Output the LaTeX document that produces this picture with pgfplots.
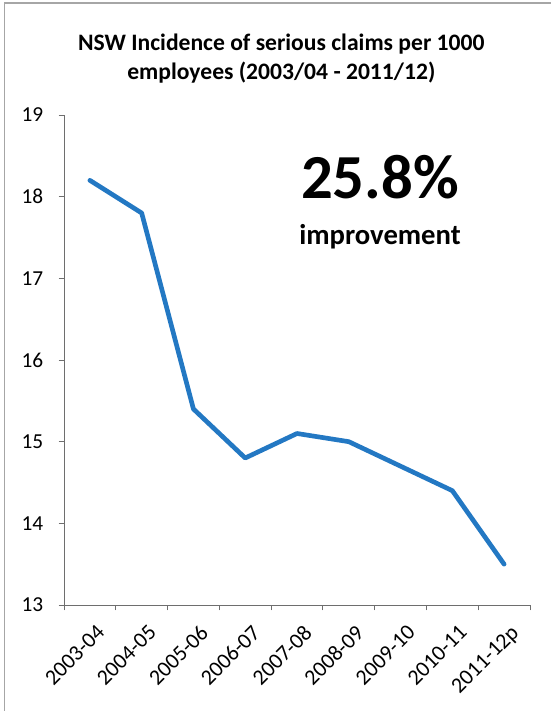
\documentclass[border=0pt]{standalone}
\usepackage{pgfplots}
\pgfplotsset{compat=1.18}
\usepackage{fontspec}
\setmainfont{Carlito}
\definecolor{lineblue}{RGB}{35,120,195}
\definecolor{axgray}{RGB}{110,110,110}
\begin{document}
\begin{tikzpicture}[x=1pt,y=1pt]
\path[use as bounding box] (-48,-79.5) rectangle (365.25,453.75);
\draw[gray!70, line width=0.8pt] (-44.5,-79.5) -- (-44.5,451.5) -- (365.25,451.5);
\begin{axis}[
  at={(0,0)}, anchor=south west,
  scale only axis, width=349.5pt, height=367.5pt,
  xmin=0, xmax=9, ymin=13, ymax=19,
  axis lines*=left,
  axis line style={axgray, line width=0.6pt},
  ytick={13,...,19},
  yticklabel style={font=\fontsize{16}{16}\selectfont, xshift=-8pt},
  xtick={0.5,1.5,...,8.5},
  xticklabels={2003-04,2004-05,2005-06,2006-07,2007-08,2008-09,2009-10,2010-11,2011-12p},
  xticklabel style={font=\fontsize{16.5}{16.5}\selectfont, rotate=45, anchor=north east, inner sep=1pt, yshift=-9pt, xshift=-3pt},
  minor xtick={0,...,9},
  tick align=outside,
  tick style={axgray, line width=0.6pt},
  major x tick style={draw=none},
  major tick length=4pt, minor tick length=4pt,
  /pgf/number format/assume math mode=true,
  clip=false,
]
\addplot[lineblue, line width=3.5pt, line join=round, line cap=round] coordinates {
(0.5,18.2) (1.5,17.8) (2.5,15.4) (3.5,14.8) (4.5,15.1) (5.5,15.0) (6.5,14.7) (7.5,14.4) (8.5,13.5)};
\end{axis}
\node[font=\fontsize{17.7}{21.5}\selectfont\bfseries, align=center] at (163,410) {NSW Incidence of serious claims per 1000\\employees (2003/04 - 2011/12)};
\node[font=\fontsize{47}{47}\selectfont\bfseries] at (237,321) {25.8\%};
\node[font=\fontsize{21.5}{22}\selectfont\bfseries] at (237,276) {improvement};
\end{tikzpicture}
\end{document}
